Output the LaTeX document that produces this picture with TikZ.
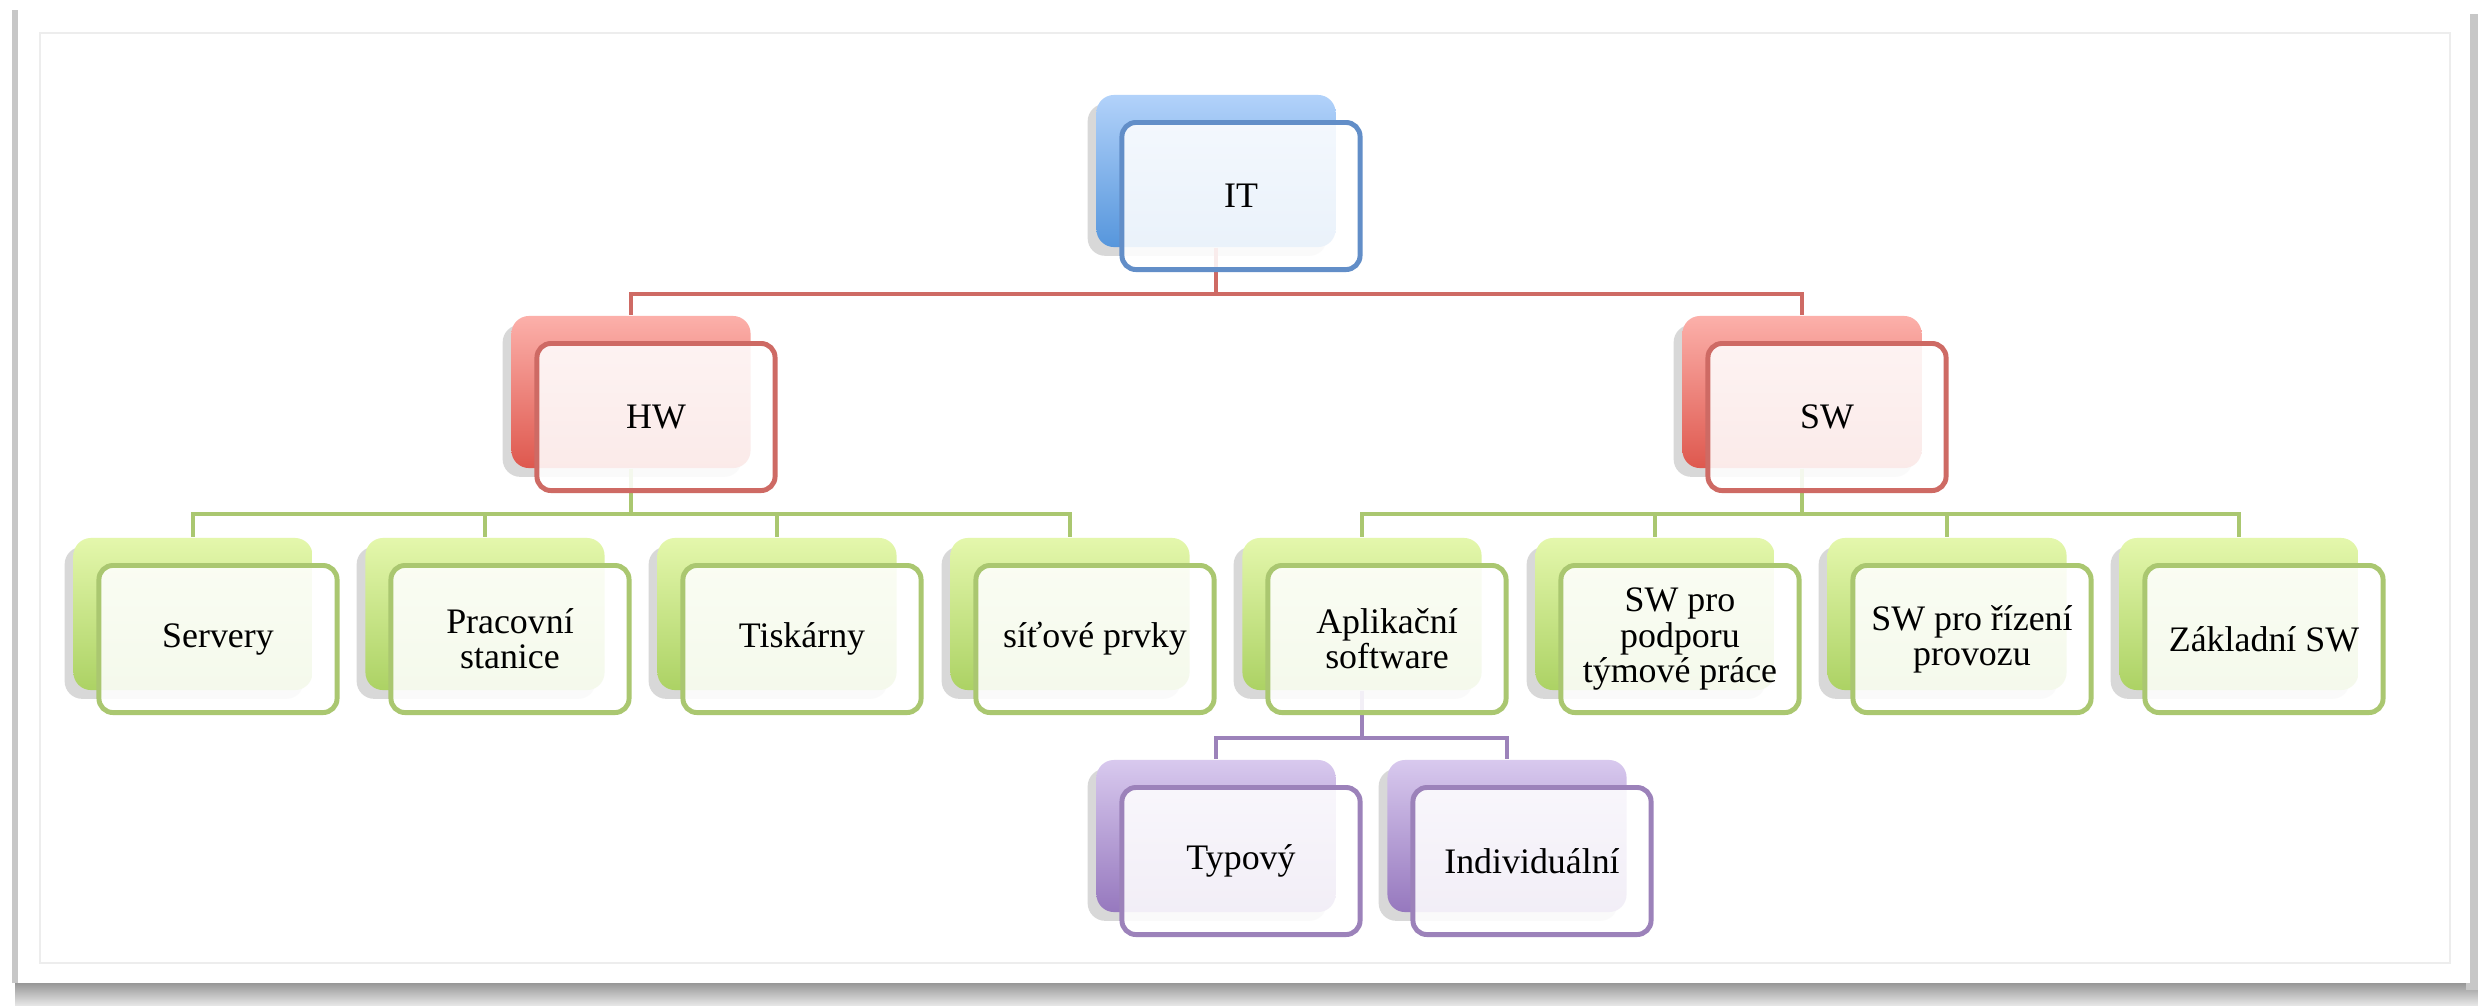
\documentclass[tikz,border=0pt]{standalone}
\usepackage{fontspec}
\setmainfont{Liberation Serif}
\usetikzlibrary{shadows}

\definecolor{modraH}{RGB}{178,210,250}
\definecolor{modraD}{RGB}{86,150,220}
\definecolor{modraL}{RGB}{98,142,200}
\definecolor{cervenaH}{RGB}{252,176,170}
\definecolor{cervenaD}{RGB}{222,88,78}
\definecolor{cervenaL}{RGB}{206,106,100}
\definecolor{zelenaH}{RGB}{228,247,172}
\definecolor{zelenaD}{RGB}{172,210,100}
\definecolor{zelenaL}{RGB}{170,199,112}
\definecolor{fialovaH}{RGB}{216,201,238}
\definecolor{fialovaD}{RGB}{150,120,190}
\definecolor{fialovaL}{RGB}{156,130,186}

\begin{document}
\begin{tikzpicture}[x=0.01cm,y=-0.01cm]
\tikzstyle{zadni}=[
        rounded corners=5pt,
        minimum width=2.39cm,
        minimum height=1.52cm,
        inner sep=0pt,
        drop shadow={opacity=0.3,shadow xshift=-2.5pt,shadow yshift=-2.5pt}
]
\tikzstyle{predni}=[
        draw,
        line width=1.4pt,
        rounded corners=4pt,
        fill=white,
        fill opacity=0.88,
        text opacity=1,
        minimum width=2.38cm,
        minimum height=1.47cm,
        inner sep=2pt,
        align=center,
        font=\fontsize{10.2}{10}\selectfont
]
\tikzstyle{zadniB}=[zadni,top color=modraH,bottom color=modraD]
\tikzstyle{zadniR}=[zadni,top color=cervenaH,bottom color=cervenaD]
\tikzstyle{zadniG}=[zadni,top color=zelenaH,bottom color=zelenaD]
\tikzstyle{zadniP}=[zadni,top color=fialovaH,bottom color=fialovaD]
%styly spojnic
\tikzstyle{spojR}=[draw=cervenaL,line width=1.1pt]
\tikzstyle{spojG}=[draw=zelenaL,line width=1.1pt]
\tikzstyle{spojP}=[draw=fialovaL,line width=1.1pt]
%ramecek
\useasboundingbox (0,0) rectangle (2478,1005);
\shade[top color=black!45,bottom color=black!10] (15,980) rectangle (2478,1005);
\fill[black!22] (2466,14) rectangle (2478,990);
\fill[white] (15,10) rectangle (2470,983);
\draw[black!22,line width=1.5pt] (15,10) -- (15,983);
\draw[black!7,line width=0.6pt] (40,33) rectangle (2450,963);
%zadni boxy
\node[zadniB] (itz) at (1216,171) {};
\node[zadniR] (hwz) at (631,392) {};
\node[zadniR] (swz) at (1802,392) {};
\node[zadniG] (servz) at (193,614) {};
\node[zadniG] (stanz) at (485,614) {};
\node[zadniG] (tiskz) at (777,614) {};
\node[zadniG] (sitz) at (1070,614) {};
\node[zadniG] (aplz) at (1362,614) {};
\node[zadniG] (tymz) at (1655,614) {};
\node[zadniG] (rizz) at (1947,614) {};
\node[zadniG] (zaklz) at (2239,614) {};
\node[zadniP] (typz) at (1216,836) {};
\node[zadniP] (indz) at (1507,836) {};
%spojnice
\draw[spojR] (itz.south) -- ++(0,46) -| (hwz.north);
\draw[spojR] (itz.south) -- ++(0,46) -| (swz.north);
\draw[spojG] (hwz.south) -- ++(0,45) -| (servz.north);
\draw[spojG] (hwz.south) -- ++(0,45) -| (stanz.north);
\draw[spojG] (hwz.south) -- ++(0,45) -| (tiskz.north);
\draw[spojG] (hwz.south) -- ++(0,45) -| (sitz.north);
\draw[spojG] (swz.south) -- ++(0,45) -| (aplz.north);
\draw[spojG] (swz.south) -- ++(0,45) -| (tymz.north);
\draw[spojG] (swz.south) -- ++(0,45) -| (rizz.north);
\draw[spojG] (swz.south) -- ++(0,45) -| (zaklz.north);
\draw[spojP] (aplz.south) -- ++(0,47) -| (typz.north);
\draw[spojP] (aplz.south) -- ++(0,47) -| (indz.north);
%predni boxy
\node[predni,draw=modraL] (it) at (1241,196) {IT};
\node[predni,draw=cervenaL] (hw) at (656,417) {HW};
\node[predni,draw=cervenaL] (sw) at (1827,417) {SW};
\node[predni,draw=zelenaL] (serv) at (218,639) {Servery};
\node[predni,draw=zelenaL] (stan) at (510,639) {Pracovní\\stanice};
\node[predni,draw=zelenaL] (tisk) at (802,639) {Tiskárny};
\node[predni,draw=zelenaL] (sit) at (1095,639) {síťové prvky};
\node[predni,draw=zelenaL] (apl) at (1387,639) {Aplikační\\software};
\node[predni,draw=zelenaL] (tym) at (1680,639) {SW pro\\podporu\\týmové práce};
\node[predni,draw=zelenaL] (riz) at (1972,639) {SW pro řízení\\provozu};
\node[predni,draw=zelenaL] (zakl) at (2264,639) {Základní SW};
\node[predni,draw=fialovaL] (typ) at (1241,861) {Typový};
\node[predni,draw=fialovaL] (ind) at (1532,861) {Individuální};
\end{tikzpicture}
\end{document}
